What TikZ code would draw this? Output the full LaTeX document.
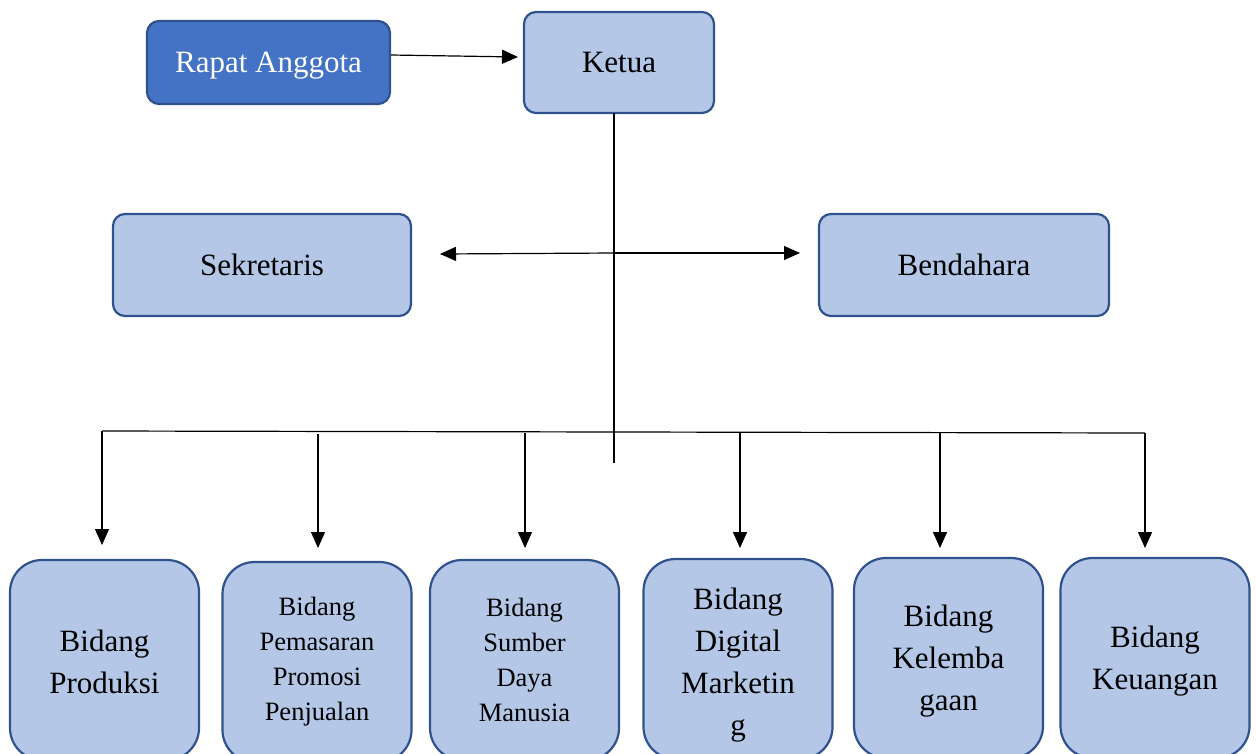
\documentclass[tikz,border=0pt]{standalone}
\usepackage{fontspec}
\setmainfont{Liberation Serif}
\usetikzlibrary{arrows.meta,calc}
\definecolor{boxfill}{HTML}{B4C7E7}
\definecolor{boxline}{HTML}{2F528F}
\definecolor{darkfill}{HTML}{4472C4}
\tikzset{
  topbox/.style={draw=boxline, line width=2.2pt, fill=boxfill, rounded corners=12pt, align=center, inner sep=0pt, text height=27.6pt, text depth=6.8pt},
  botbox/.style={draw=boxline, line width=2.2pt, fill=boxfill, rounded corners=32pt, minimum width=189pt, minimum height=200pt, inner sep=0pt},
  bottxt/.style={align=center, inner sep=0pt},
  conn/.style={line width=1.2pt, black},
  arr/.style={conn, -{Triangle[length=16pt,width=14pt]}},
  bigtxt/.style={font=\fontsize{31}{42}\selectfont},
  smalltxt/.style={font=\fontsize{26.5}{35}\selectfont},
}
\begin{document}
\begin{tikzpicture}[x=1pt,y=-1pt]
\useasboundingbox (0,0) rectangle (1257,753);
\clip (0,0) rectangle (1257,753);
% top row
\node[topbox, fill=darkfill, minimum width=243pt, minimum height=83pt, text=white, bigtxt] (rapat) at (268.5,62.5) {Rapat Anggota};
\node[topbox, minimum width=190pt, minimum height=101pt, bigtxt] (ketua) at (619,62.5) {Ketua};
\node[topbox, minimum width=298pt, minimum height=102pt, bigtxt] (sek) at (262,265) {Sekretaris};
\node[topbox, minimum width=290pt, minimum height=102pt, bigtxt] (ben) at (964,265) {Bendahara};
% bottom row boxes
\node[botbox] (b1) at (104.5,660) {};
\node[botbox] (b2) at (317,662) {};
\node[botbox] (b3) at (524.5,660) {};
\node[botbox] (b4) at (738,659) {};
\node[botbox] (b5) at (948.5,658) {};
\node[botbox] (b6) at (1155,658) {};
% bottom row texts
\node[bottxt, bigtxt] (b1t) at (104.5,662) {Bidang\\Produksi};
\node[bottxt, smalltxt] (b2t) at (317,662) {Bidang\\Pemasaran\\Promosi\\Penjualan};
\node[bottxt, smalltxt] (b3t) at (524.5,660) {Bidang\\Sumber\\Daya\\Manusia};
\node[bottxt, bigtxt] (b4t) at (738,665) {Bidang\\Digital\\Marketin\\g};
\node[bottxt, bigtxt] (b5t) at (948.5,661) {Bidang\\Kelemba\\gaan};
\node[bottxt, bigtxt] (b6t) at (1155,661) {Bidang\\Keuangan};
% coordinates
\coordinate (rstart) at (rapat.east |- 0,55);
\coordinate (kend) at (518,57);
\coordinate (ktop) at (614,113);
\coordinate (trunk) at (614,463);
\coordinate (mid) at (614,253);
\coordinate (sekend) at (440,254);
\coordinate (benend) at (800,253);
\coordinate (busL) at (102,431);
\coordinate (busR) at (1145,433);
\coordinate (t1) at (102,545);
\coordinate (s2) at (318,434);
\coordinate (t2) at (318,548);
\coordinate (s3) at (525,433);
\coordinate (t3) at (525,548);
\coordinate (s4) at (740,433);
\coordinate (t4) at (740,548);
\coordinate (s5) at (940,433);
\coordinate (t5) at (940,548);
\coordinate (t6) at (1145,548);
% connectors
\draw[arr] (rstart) -- (kend);
\draw[conn] (ktop) -- (trunk);
\draw[arr] (mid) -- (sekend);
\draw[arr] (mid) -- (benend);
\draw[conn] (busL) -- (busR);
\draw[arr] (busL) -- (t1);
\draw[arr] (s2) -- (t2);
\draw[arr] (s3) -- (t3);
\draw[arr] (s4) -- (t4);
\draw[arr] (s5) -- (t5);
\draw[arr] (busR) -- (t6);
\end{tikzpicture}
\end{document}
